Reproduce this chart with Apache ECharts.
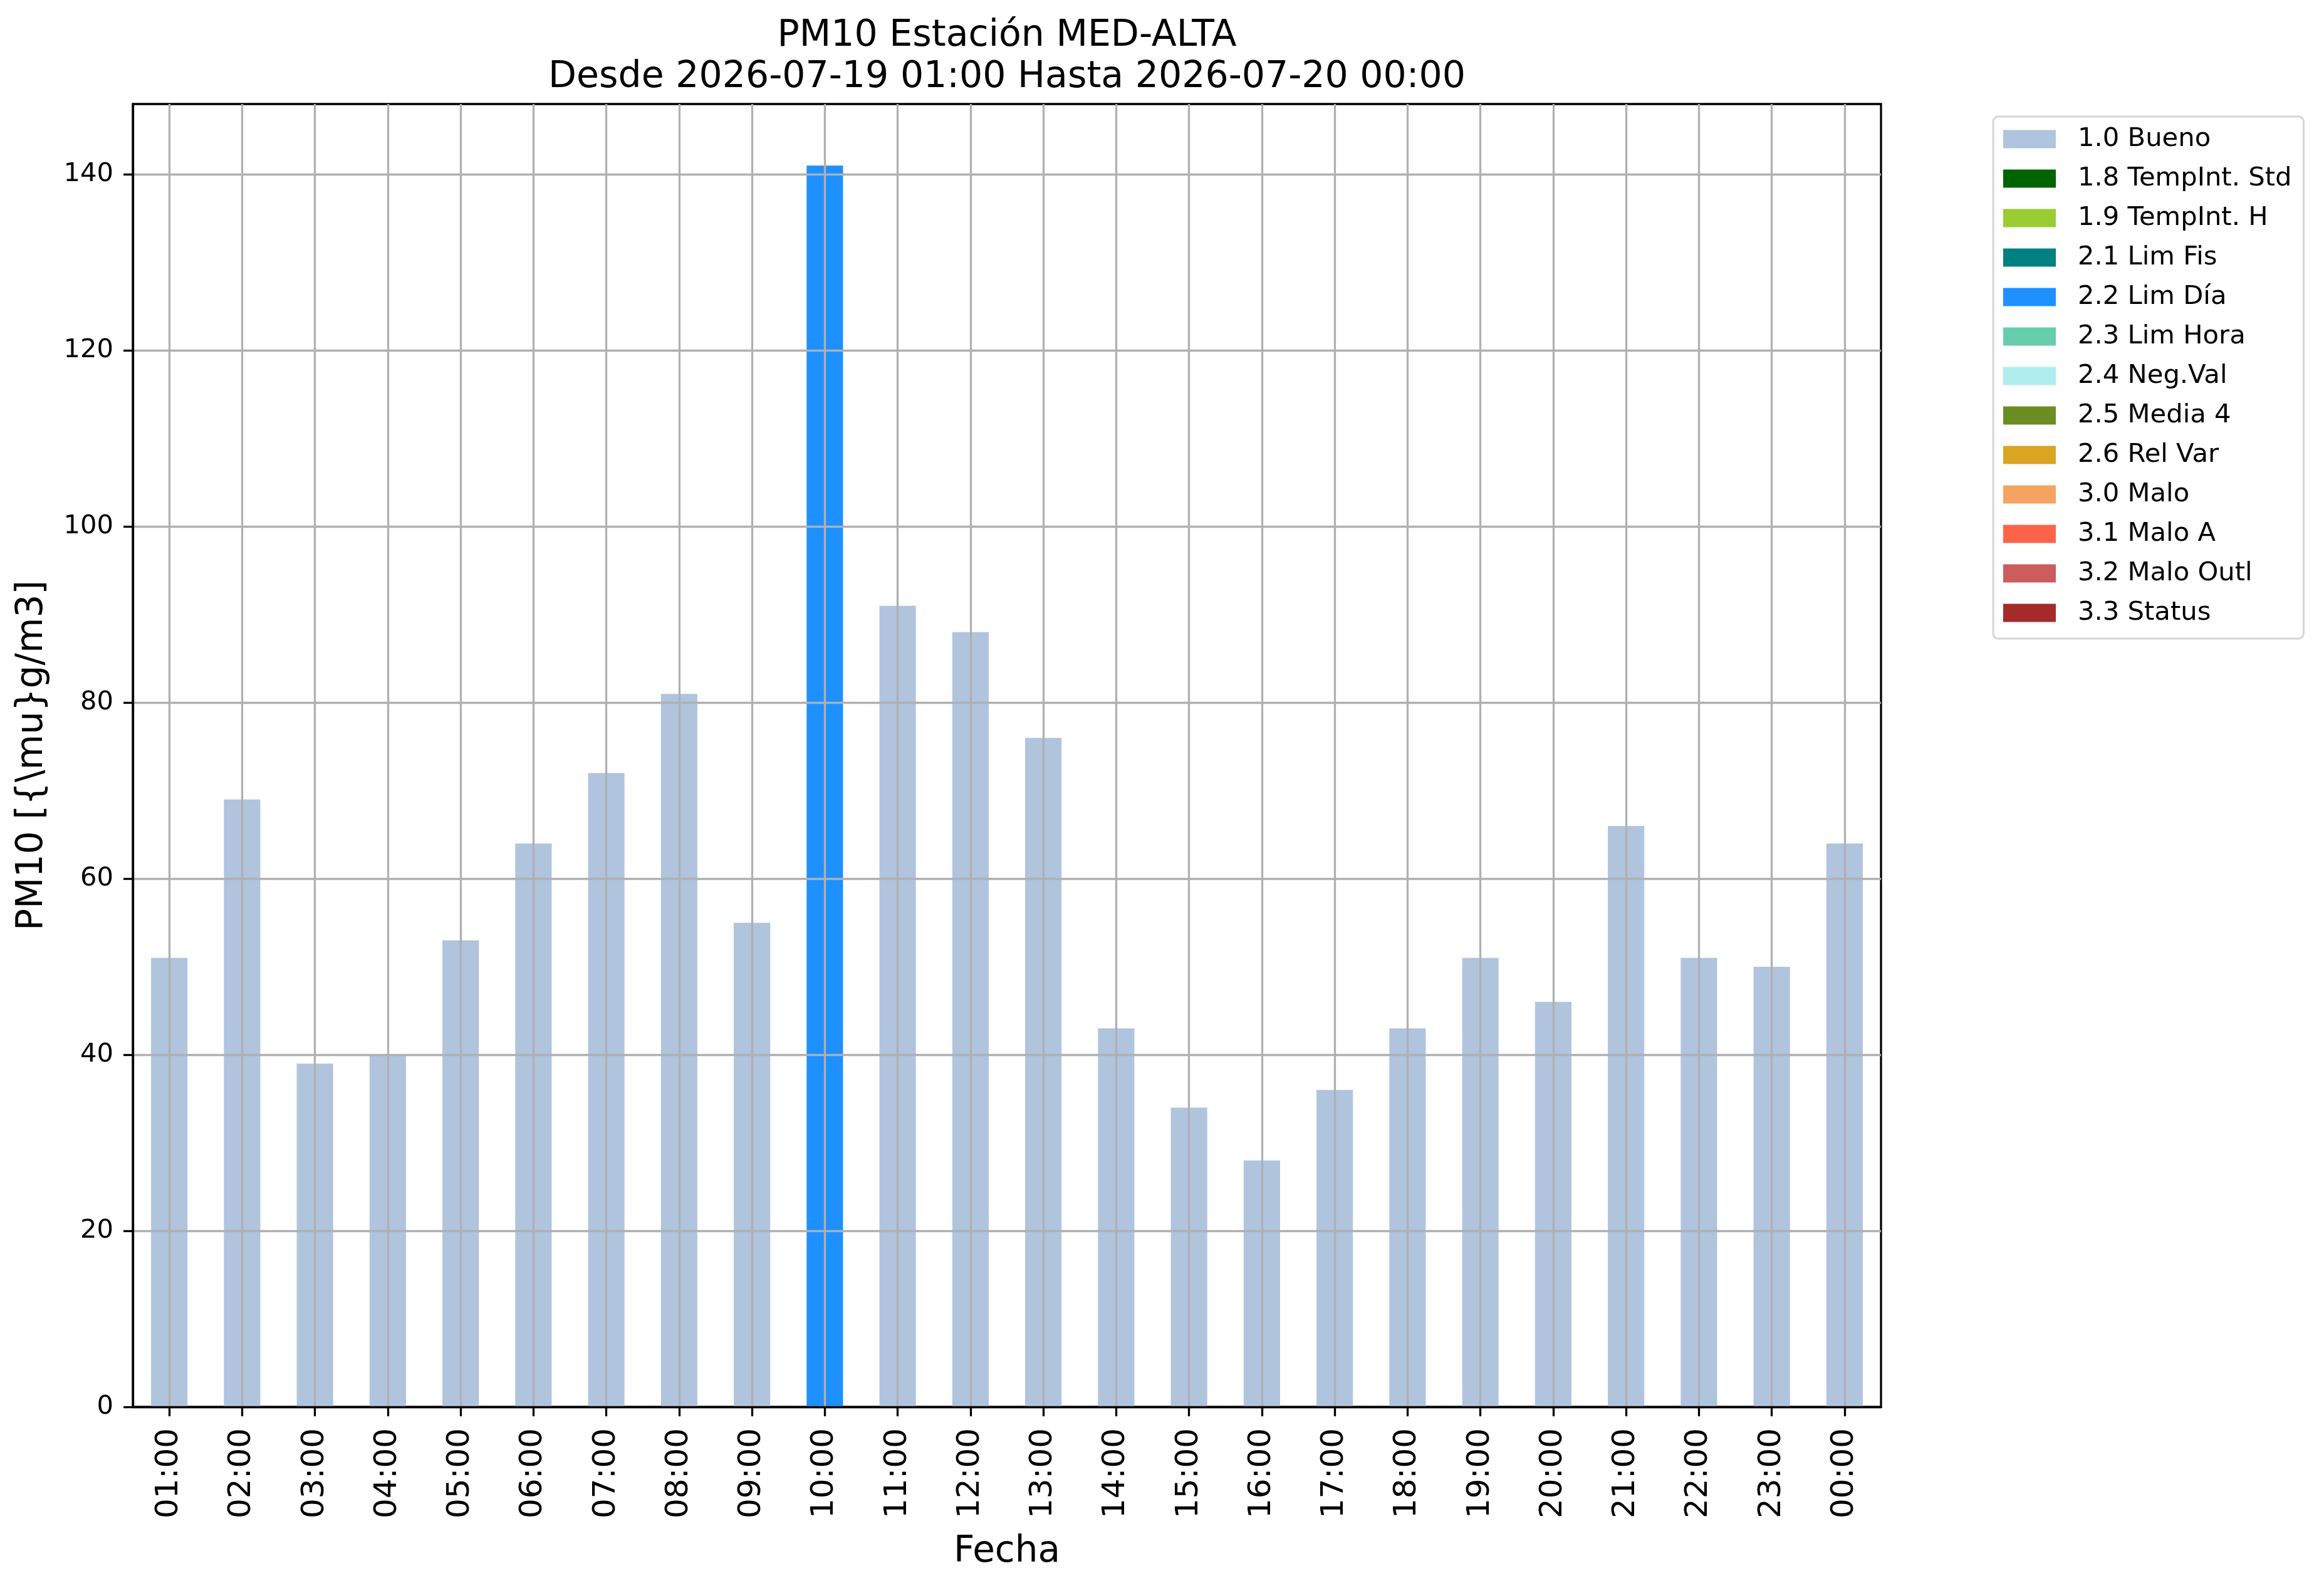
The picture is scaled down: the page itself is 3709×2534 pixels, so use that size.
<!DOCTYPE html>
<html>
<head>
<meta charset="utf-8">
<script src="https://cdn.jsdelivr.net/npm/echarts@6/dist/echarts.min.js"></script>
<style>
html, body { margin: 0; padding: 0; background: #fff; }
#pm10 { width: 3709px; height: 2534px; }
</style>
</head>
<body>
<div id="pm10"></div>
<script>
var horas = ['01:00','02:00','03:00','04:00','05:00','06:00','07:00','08:00','09:00','10:00','11:00','12:00',
             '13:00','14:00','15:00','16:00','17:00','18:00','19:00','20:00','21:00','22:00','23:00','00:00'];
var valores = [51, 69, 39, 40, 53, 64, 72, 81, 55, 141, 91, 88, 76, 43, 34, 28, 36, 43, 51, 46, 66, 51, 50, 64];
// flag de validacion de cada hora
var flags = ['1.0','1.0','1.0','1.0','1.0','1.0','1.0','1.0','1.0','2.2','1.0','1.0',
             '1.0','1.0','1.0','1.0','1.0','1.0','1.0','1.0','1.0','1.0','1.0','1.0'];
var categorias = ['1.0 Bueno','1.8 TempInt. Std','1.9 TempInt. H','2.1 Lim Fis','2.2 Lim Día','2.3 Lim Hora',
                  '2.4 Neg.Val','2.5 Media 4','2.6 Rel Var','3.0 Malo','3.1 Malo A','3.2 Malo Outl','3.3 Status'];
var colores = ['#b0c4de','#006400','#9acd32','#008080','#1e90ff','#66cdaa',
               '#afeeee','#6b8e23','#daa520','#f4a460','#ff6347','#cd5c5c','#a52a2a'];
var yTicks = [0, 20, 40, 60, 80, 100, 120, 140];

var fuente = 'DejaVu Sans';
var myChart = echarts.init(document.getElementById('pm10'));

var series = categorias.map(function (nombre, i) {
    var codigo = nombre.split(' ')[0];
    return {
        name: nombre,
        type: 'bar',
        stack: 'total',
        barWidth: '50%',
        itemStyle: { color: colores[i] },
        data: valores.map(function (v, k) { return flags[k] === codigo ? v : '-'; })
    };
});

myChart.setOption({
    animation: false,
    textStyle: { fontFamily: fuente },
    title: {
        text: 'PM10 Estación MED-ALTA\nDesde 2026-07-19 01:00 Hasta 2026-07-20 00:00',
        left: 1607,
        top: 25,
        padding: 0,
        textAlign: 'center',
        textStyle: { fontFamily: fuente, fontSize: 58.5, fontWeight: 'normal', color: '#000', lineHeight: 66 }
    },
    legend: {
        orient: 'vertical',
        left: 3181,
        top: 186,
        padding: [15, 19, 20, 16],
        itemWidth: 84,
        itemHeight: 29,
        itemGap: 21,
        icon: 'rect',
        borderColor: '#d6d6d6',
        borderWidth: 3,
        borderRadius: 8,
        backgroundColor: '#fff',
        textStyle: { fontFamily: fuente, fontSize: 41.7, color: '#000', padding: [0, 0, 0, 30] },
        data: categorias
    },
    grid: {
        left: 212,
        right: 707,
        top: 166,
        bottom: 289,
        show: true,
        borderColor: '#000',
        borderWidth: 3.3,
        containLabel: false
    },
    xAxis: {
        type: 'category',
        data: horas,
        z: 3,
        name: 'Fecha',
        nameLocation: 'middle',
        nameGap: 203,
        nameTextStyle: { fontFamily: fuente, fontSize: 58, color: '#000' },
        axisLine: { show: true, lineStyle: { color: '#000', width: 3.3 } },
        axisTick: { show: true, alignWithLabel: true, length: 15, lineStyle: { color: '#000', width: 3.3 } },
        axisLabel: { rotate: 90, fontFamily: fuente, fontSize: 50, color: '#000', margin: 34, interval: 0 },
        splitLine: { show: true, alignWithLabel: true, interval: 0, lineStyle: { color: '#b0b0b0', width: 3.3 } }
    },
    yAxis: {
        type: 'value',
        min: 0,
        max: 148,
        interval: 20,
        z: 3,
        name: 'PM10 [{\\mu}g/m3]',
        nameLocation: 'middle',
        nameGap: 131,
        nameTextStyle: { fontFamily: fuente, fontSize: 58, color: '#000' },
        axisLine: { show: true, lineStyle: { color: '#000', width: 3.3 } },
        axisTick: { show: true, length: 15, customValues: yTicks, lineStyle: { color: '#000', width: 3.3 } },
        axisLabel: { fontFamily: fuente, fontSize: 41.7, color: '#000', margin: 31, customValues: yTicks },
        splitLine: { show: true, lineStyle: { color: '#b0b0b0', width: 3.3 } }
    },
    series: series
});
</script>
</body>
</html>
